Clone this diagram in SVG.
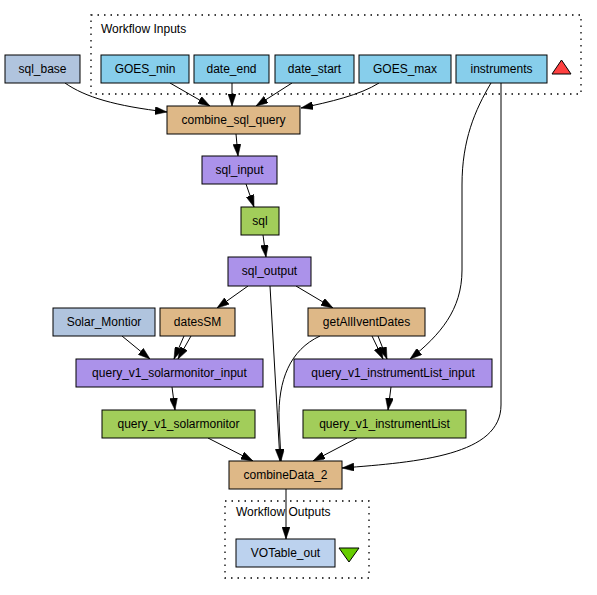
<svg xmlns="http://www.w3.org/2000/svg" width="597" height="595" viewBox="0 0 597 595">
<style>
  .n rect { stroke: #000; stroke-width: 1; }
  .n text, .lbl { font-family: "Liberation Sans", Arial, sans-serif; font-size: 12px; fill: #000; }
  .n text { text-anchor: middle; }
  .in rect { fill: #87ceeb; }
  .const rect { fill: #b0c4de; }
  .bean rect { fill: #deb887; }
  .xml rect { fill: #ab92ea; }
  .ws rect { fill: #a2cd5a; }
  .out rect { fill: #bcd2ee; }
  .cluster { fill: none; stroke: #000; stroke-width: 1.3; stroke-dasharray: 1.5,5; }
  #edges path { fill: none; stroke: #000; stroke-width: 1; marker-end: url(#arr); }
</style>
<defs>
  <marker id="arr" viewBox="0 0 12 8" refX="12" refY="4" markerWidth="12" markerHeight="8" markerUnits="userSpaceOnUse" orient="auto">
    <path d="M0,0 L12,4 L0,8 z" fill="#000" stroke="#000" stroke-width="0.5"/>
  </marker>
</defs>
<rect width="597" height="595" fill="#fff"/>

<g id="cluster_inputs">
  <rect class="cluster" x="91" y="15" width="490" height="79"/>
  <text class="lbl" x="101" y="33">Workflow Inputs</text>
  <polygon points="552,74 561.5,60 571,74" fill="#ff4040" stroke="#000" stroke-width="1"/>
</g>
<g id="cluster_outputs">
  <rect class="cluster" x="225" y="501" width="144" height="77"/>
  <text class="lbl" x="236" y="516">Workflow Outputs</text>
  <polygon points="339,548 359,548 349,562" fill="#66cd00" stroke="#000" stroke-width="1"/>
</g>

<g id="edges">
  <path d="M65,83 C85,97 115,106 167,112"/>
  <path d="M170,83 L210,106"/>
  <path d="M232,83 L232,106"/>
  <path d="M292,83 L256,106"/>
  <path d="M379,83 C360,95 330,102 301,108"/>
  <path d="M236,134 L238,156"/>
  <path d="M246,184 L254,207"/>
  <path d="M263,235 L266,257"/>
  <path d="M248,286 L217,308"/>
  <path d="M296,286 L333,308"/>
  <path d="M270,286 L280,461"/>
  <path d="M491,83 C475,110 462,140 462,185 L462,270 C462,310 440,335 410,359"/>
  <path d="M501,83 L501,405 C501,455 420,462 342,468"/>
  <path d="M122,336 L150,359"/>
  <path d="M184,336 L174,359"/>
  <path d="M191,336 L178,359"/>
  <path d="M372,336 L383,359"/>
  <path d="M378,336 L387,359"/>
  <path d="M320,336 C290,350 278,380 279,420 L281,461"/>
  <path d="M172,387 L175,410"/>
  <path d="M391,387 L388,410"/>
  <path d="M208,438 L253,461"/>
  <path d="M357,438 L313,461"/>
  <path d="M286,489 L286,539"/>
</g>

<g id="sql_base" class="n const"><rect x="5" y="55" width="75" height="28"/><text x="42.5" y="73">sql_base</text></g>
<g id="GOES_min" class="n in"><rect x="101" y="55" width="88" height="28"/><text x="145" y="73">GOES_min</text></g>
<g id="date_end" class="n in"><rect x="194" y="55" width="75" height="28"/><text x="231.5" y="73">date_end</text></g>
<g id="date_start" class="n in"><rect x="275" y="55" width="79" height="28"/><text x="314.5" y="73">date_start</text></g>
<g id="GOES_max" class="n in"><rect x="359" y="55" width="92" height="28"/><text x="405" y="73">GOES_max</text></g>
<g id="instruments" class="n in"><rect x="456" y="55" width="91" height="28"/><text x="501.5" y="73">instruments</text></g>

<g id="combine_sql_query" class="n bean"><rect x="167" y="106" width="133" height="28"/><text x="233.5" y="124">combine_sql_query</text></g>
<g id="sql_input" class="n xml"><rect x="202" y="156" width="75" height="28"/><text x="239.5" y="174">sql_input</text></g>
<g id="sql" class="n ws"><rect x="241" y="207" width="38" height="28"/><text x="260" y="225">sql</text></g>
<g id="sql_output" class="n xml"><rect x="228" y="257" width="83" height="29"/><text x="269.5" y="275">sql_output</text></g>

<g id="Solar_Montior" class="n const"><rect x="53" y="308" width="102" height="28"/><text x="104" y="326">Solar_Montior</text></g>
<g id="datesSM" class="n bean"><rect x="160" y="308" width="75" height="28"/><text x="197.5" y="326">datesSM</text></g>
<g id="getAllIventDates" class="n bean"><rect x="308" y="308" width="117" height="28"/><text x="366.5" y="326">getAllIventDates</text></g>

<g id="query_v1_solarmonitor_input" class="n xml"><rect x="76" y="359" width="187" height="28"/><text x="169.5" y="377">query_v1_solarmonitor_input</text></g>
<g id="query_v1_instrumentList_input" class="n xml"><rect x="294" y="359" width="198" height="28"/><text x="393" y="377">query_v1_instrumentList_input</text></g>
<g id="query_v1_solarmonitor" class="n ws"><rect x="102" y="410" width="153" height="28"/><text x="178.5" y="428">query_v1_solarmonitor</text></g>
<g id="query_v1_instrumentList" class="n ws"><rect x="303" y="410" width="163" height="28"/><text x="384.5" y="428">query_v1_instrumentList</text></g>

<g id="combineData_2" class="n bean"><rect x="229" y="461" width="113" height="28"/><text x="285.5" y="479">combineData_2</text></g>
<g id="VOTable_out" class="n out"><rect x="236" y="539" width="99" height="28"/><text x="285.5" y="557">VOTable_out</text></g>
</svg>
